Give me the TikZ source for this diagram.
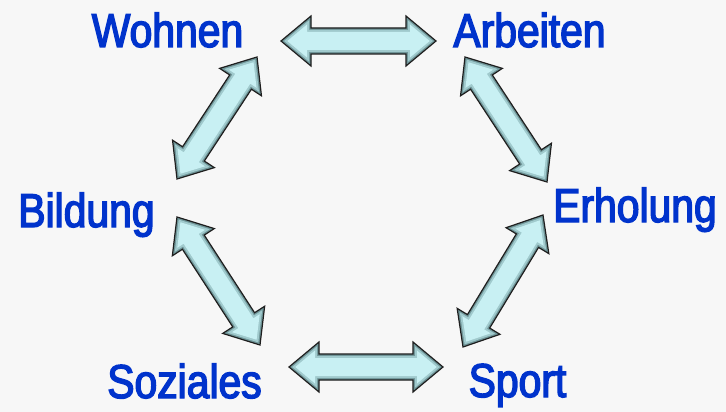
\documentclass[tikz,border=0pt]{standalone}
\usepackage{fontspec}
\usepackage{graphicx}
\usetikzlibrary{calc}
\newfontfamily\labfont{Liberation Sans}[FakeStretch=0.86,FakeBold=3]
\definecolor{bg}{HTML}{F7F7F7}
\definecolor{lblue}{RGB}{0,51,204}
\definecolor{arrowline}{HTML}{1E1E1E}
\definecolor{arrowouter}{HTML}{6F9598}
\definecolor{arrowmid}{HTML}{A0CACD}
\definecolor{arrowinner}{HTML}{C8F0F3}
% #1,#2 tips; #3 tip inset; #4 head base; #5 head half width; #6 shaft half width
\newcommand\arrowpath[6]{($(#1)!#3!(#2)$) -- ($(#1)!#4!(#2)!#5!90:(#2)$) -- ($(#1)!#4!(#2)!#6!90:(#2)$) -- ($(#2)!#4!(#1)!#6!-90:(#1)$) -- ($(#2)!#4!(#1)!#5!-90:(#1)$) -- ($(#2)!#3!(#1)$) -- ($(#2)!#4!(#1)!#5!90:(#1)$) -- ($(#2)!#4!(#1)!#6!90:(#1)$) -- ($(#1)!#4!(#2)!#6!-90:(#2)$) -- ($(#1)!#4!(#2)!#5!-90:(#2)$) -- cycle}
\newcommand\bevarrow[2]{%
  \path[arrowouterstyle] \arrowpath{#1}{#2}{0pt}{30pt}{25pt}{13pt};
  \path[arrowmidstyle] \arrowpath{#1}{#2}{3.1pt}{28pt}{20.7pt}{11pt};
  \path[arrowinnerstyle] \arrowpath{#1}{#2}{6.3pt}{26pt}{16.5pt}{9pt};
}
\tikzset{
  lab/.style={text=lblue, inner sep=0pt, anchor=base, font=\labfont\fontsize{47.5}{50}\selectfont},
  arrowouterstyle/.style={fill=arrowouter, draw=arrowline, line width=1.2pt, line join=miter},
  arrowmidstyle/.style={fill=arrowmid},
  arrowinnerstyle/.style={fill=arrowinner},
}
\begin{document}
\begin{tikzpicture}[x=1pt,y=-1pt]
\fill[bg] (0,0) rectangle (726,412);
\useasboundingbox (0,0) rectangle (726,412);
% labels
\node[lab] (wohnen) at (167.5,47) {Wohnen};
\node[lab] (arbeiten) at (529.5,47) {Arbeiten};
\node[lab] (erholung) at (635,222) {Erholung};
\node[lab] (bildung) at (86.5,227) {Bildung};
\node[lab] (soziales) at (184.5,398) {Soziales};
\node[lab] (sport) at (517.5,397) {Sport};
% arrow ends
\coordinate (wa1) at (281,41);
\coordinate (wa2) at (436,41);
\coordinate (wb1) at (257,57);
\coordinate (wb2) at (177,179);
\coordinate (ae1) at (465,57);
\coordinate (ae2) at (547,182);
\coordinate (es1) at (543,215);
\coordinate (es2) at (463,347);
\coordinate (bs1) at (177,217);
\coordinate (bs2) at (260,345);
\coordinate (ss1) at (289,367);
\coordinate (ss2) at (443,367);
\bevarrow{wa1}{wa2}
\bevarrow{wb1}{wb2}
\bevarrow{ae1}{ae2}
\bevarrow{es1}{es2}
\bevarrow{bs1}{bs2}
\bevarrow{ss1}{ss2}
\end{tikzpicture}
\end{document}
